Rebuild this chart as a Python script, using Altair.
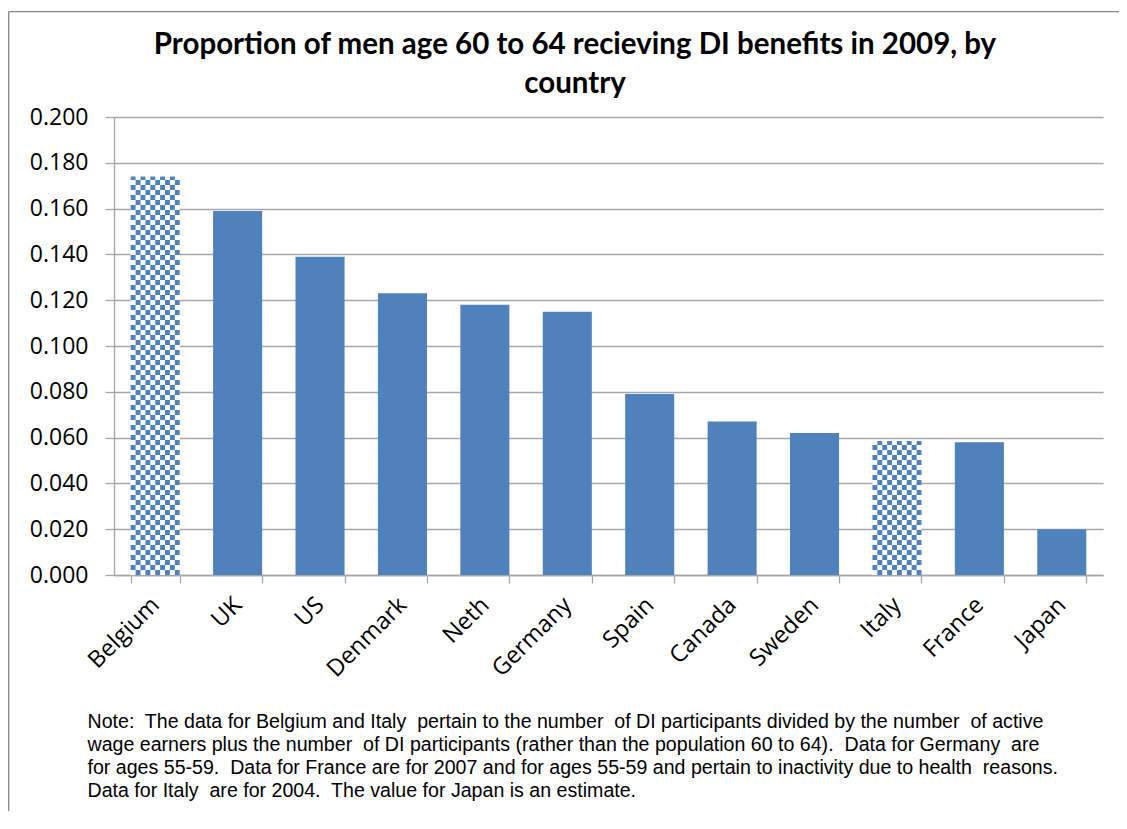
import altair as alt
import pandas as pd
import numpy as np

# ---- data ----
countries = ["Belgium", "UK", "US", "Denmark", "Neth", "Germany",
             "Spain", "Canada", "Sweden", "Italy", "France", "Japan"]
values = [0.174, 0.159, 0.139, 0.123, 0.118, 0.115,
          0.079, 0.067, 0.062, 0.0585, 0.058, 0.020]
checkered = ["Belgium", "Italy"]
y_ticks = [0.0, 0.02, 0.04, 0.06, 0.08, 0.10, 0.12, 0.14, 0.16, 0.18, 0.20]

title_lines = ["Proportion of men age 60 to 64 recieving DI benefits in 2009, by",
               "country"]
note_lines = [
    "Note:\u00a0 The data for Belgium and Italy\u00a0 pertain to the number\u00a0 of DI participants divided by the number\u00a0 of active",
    "wage earners plus the number\u00a0 of DI participants (rather than the population 60 to 64).\u00a0 Data for Germany\u00a0 are",
    "for ages 55-59.\u00a0 Data for France are for 2007 and for ages 55-59 and pertain to inactivity due to health\u00a0 reasons.",
    "Data for Italy\u00a0 are for 2004.\u00a0 The value for Japan is an estimate.",
]

BLUE = "#4F81BD"
GRID = "#a6a6a6"
W, H = 989, 458
YMAX = 0.2
CELL = YMAX / H * 5.0   # checker cell height in data units (texture only)
NCOL = 10               # checker columns per bar

df = pd.DataFrame({"country": countries, "value": values})
df["pattern"] = df["country"].isin(checkered)
solid_df = df[~df["pattern"]]
pat_df = df[df["pattern"]]

cells = []
for c, v in zip(pat_df["country"], pat_df["value"]):
    nrows = int(np.ceil(v / CELL))
    for r in range(nrows):
        for k in range(NCOL):
            if (r + k) % 2 == 1:
                cells.append({"country": c, "col": k,
                              "y0": r * CELL, "y1": min((r + 1) * CELL, v)})
cells_df = pd.DataFrame(cells)

xscale = alt.Scale(domain=countries, paddingInner=0.405, paddingOuter=0.2025)
yscale = alt.Scale(domain=[0, YMAX], nice=False, zero=True)

xaxis = alt.Axis(
    labelAngle=-45, labelAlign="right", labelBaseline="middle",
    labelFont="Open Sans", labelFontSize=23.5, labelColor="#000000", labelPadding=18,
    tickBand="extent", tickSize=8, tickColor=GRID, tickWidth=1.3,
    domainColor=GRID, domainWidth=1.3, grid=False,
    title=note_lines, titleFont="Liberation Sans", titleFontSize=19.6,
    titleFontWeight="normal", titleColor="#000000", titleAlign="left",
    titleBaseline="alphabetic", titleX=-27, titleY=152.7, titleLineHeight=23,
)
yaxis = alt.Axis(
    values=y_ticks, format=".3f",
    labelFont="Open Sans", labelFontSize=23, labelColor="#000000", labelPadding=17,
    tickSize=9, tickColor=GRID, tickWidth=1.3,
    domainColor=GRID, domainWidth=1.3,
    grid=True, gridColor=GRID, gridWidth=1.3,
    title=title_lines, titleFont="Lato", titleFontSize=29.5,
    titleFontWeight="bold", titleColor="#000000", titleAngle=0,
    titleAlign="center", titleBaseline="alphabetic",
    titleX=460.5, titleY=-63.7, titleLineHeight=39,
)

X = alt.X("country:N", sort=countries, scale=xscale, axis=xaxis)

solid = alt.Chart(solid_df).mark_bar(color=BLUE).encode(
    x=X, y=alt.Y("value:Q", scale=yscale, axis=yaxis)
)
white = alt.Chart(pat_df).mark_bar(color="#ffffff").encode(
    x=X, y=alt.Y("value:Q", scale=yscale, axis=yaxis)
)
checks = alt.Chart(cells_df).mark_bar(color=BLUE).encode(
    x=X,
    xOffset=alt.XOffset("col:O", scale=alt.Scale(paddingInner=0, paddingOuter=0)),
    y=alt.Y("y0:Q", scale=yscale, axis=yaxis),
    y2="y1:Q",
)

frame_df = pd.DataFrame({"a": [0]})
frame_left = alt.Chart(frame_df).mark_rule(color="#868686", strokeWidth=1.3).encode(
    x=alt.value(-105.3), y=alt.value(-105.3), y2=alt.value(H + 300)
)
frame_top = alt.Chart(frame_df).mark_rule(color="#868686", strokeWidth=1.3).encode(
    x=alt.value(-105.3), x2=alt.value(W + 100), y=alt.value(-105.3)
)

chart = alt.layer(solid, white, checks, frame_left, frame_top).properties(
    width=W, height=H,
    autosize=alt.AutoSizeParams(type="none"),
    padding={"left": 106, "top": 109, "right": 16, "bottom": 236},
    background="#ffffff",
).configure_view(strokeWidth=0)

chart.save("out.html", embed_options={"renderer": "svg", "actions": False})
